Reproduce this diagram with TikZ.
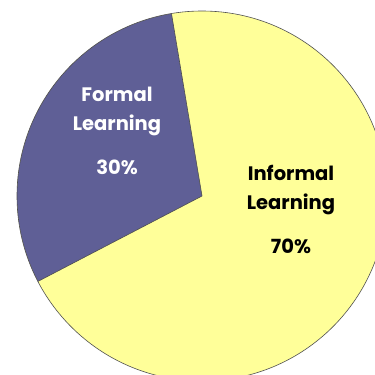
\documentclass[tikz,border=0pt]{standalone}
\usepackage{fontspec}
\setmainfont{Poppins}
\definecolor{formalc}{HTML}{5F5F96}
\definecolor{informalc}{HTML}{FFFF99}
\definecolor{edgec}{HTML}{505050}
\begin{document}
\begin{tikzpicture}[x=1pt,y=-1pt,
  wedge/.style={draw=edgec,line width=0.6pt,line join=round},
  lbl/.style={font=\fontsize{19.5}{29}\selectfont\bfseries,align=center,inner sep=0pt}]
\useasboundingbox (0,0) rectangle (375,375);
\clip (0,0) rectangle (375,375);
\coordinate (c) at (202,196);
\fill[informalc] (c) circle (185);
\fill[formalc] (c) -- ++(-99.5:185) arc[start angle=-99.5,end angle=-207.5,radius=185] -- cycle;
\draw[wedge] (c) circle (185);
\draw[wedge] (c) -- ++(-99.5:185);
\draw[wedge] (c) -- ++(-207.5:185);
\node[lbl,text=white] (ft) at (117,111) {Formal\\Learning};
\node[lbl,text=white] (fp) at (117,167) {30\%};
\node[lbl,text=black] (it) at (291,190) {Informal\\Learning};
\node[lbl,text=black] (ip) at (291,246) {70\%};
\end{tikzpicture}
\end{document}
